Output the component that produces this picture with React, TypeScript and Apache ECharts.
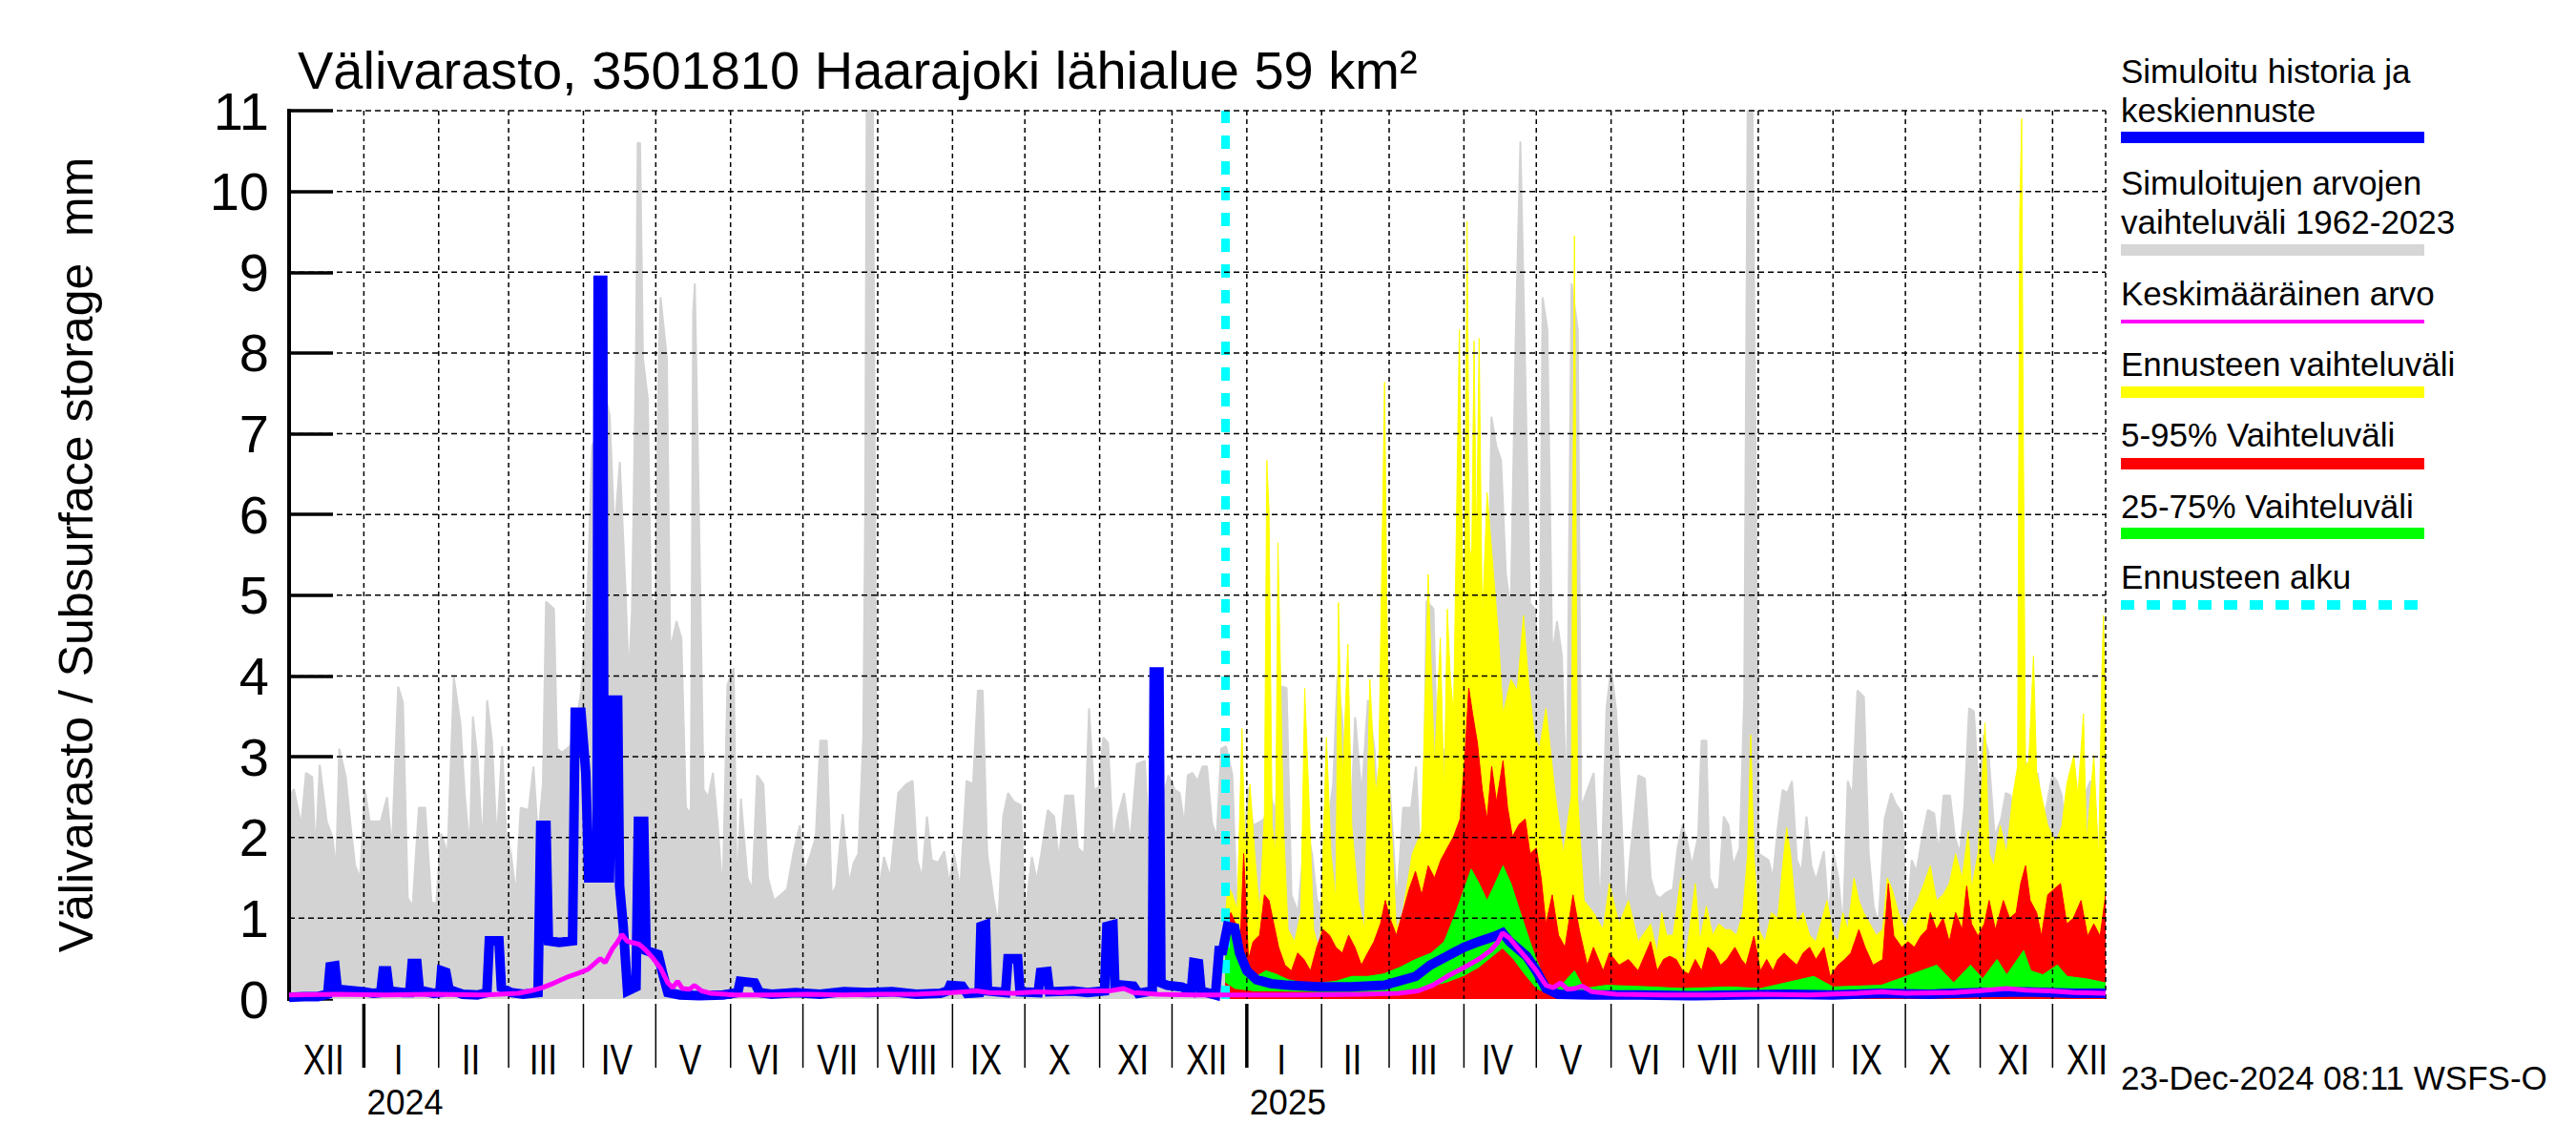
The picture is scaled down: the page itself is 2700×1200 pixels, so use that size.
import React, { useEffect, useRef } from "react";
import * as echarts from "echarts";

// ---------- axis / calendar constants ----------
const DAY0 = Date.UTC(2023, 11, 1); // 1 Dec 2023 = day 0
const X_MAX = 753; // 23 Dec 2025
const FORECAST_START = 388; // 23 Dec 2024
const Y_MAX = 11;
const yGridValues = [1, 2, 3, 4, 5, 6, 7, 8, 9, 10, 11];
const monthLabels = ["XII", "I", "II", "III", "IV", "V", "VI", "VII", "VIII", "IX", "X", "XI", "XII", "I", "II", "III", "IV", "V", "VI", "VII", "VIII", "IX", "X", "XI", "XII"];
const yearLabels: Record<number, string> = { 1: "2024", 13: "2025" };

const TITLE = "Välivarasto, 3501810 Haarajoki lähialue 59 km²";
const Y_NAME = "Välivarasto / Subsurface storage  mm";
const STAMP = "23-Dec-2024 08:11 WSFS-O";

// ---------- series values: [day, mm] ----------
const grayMax: [number, number][] = [
  [0, 2.5], [2, 2.6], [5, 2.15], [7, 2.8], [9.6, 2.75], [11, 1.8], [12.7, 2.9], [15.6, 2.2], [18, 2.0], [19.5, 1.6],
  [20.8, 3.1], [23.5, 2.75], [25.5, 2.15], [27.4, 1.65], [29.4, 1.5], [31.4, 2.6], [33.4, 2.2], [36, 2.2], [38, 2.2], [40.6, 2.5],
  [42.6, 1.85], [45.2, 3.87], [47.2, 3.67], [49.2, 1.25], [51.2, 1.15], [53.8, 2.37], [56.4, 2.37], [59, 1.2], [61, 1.18], [63, 2.05],
  [65.7, 1.8], [68.3, 3.98], [71, 3.42], [72.9, 2.5], [74.9, 1.86], [76.2, 3.5], [78.2, 2.95], [80.2, 1.86], [82.1, 3.7], [84.1, 3.2],
  [86.1, 1.94], [88.3, 3.13], [90, 2.05], [92, 1.8], [94, 1.29], [96, 2.37], [99.3, 2.34], [101.3, 2.88], [103.2, 2.0], [105.2, 2.66],
  [106.5, 4.92], [109.8, 4.83], [111.1, 3.1], [113.1, 3.05], [116.4, 3.13], [118.4, 3.3], [121, 3.8], [123.7, 5.0], [125.6, 6.85], [128, 7.0],
  [131, 7.5], [132.9, 7.22], [134.9, 5.77], [137.1, 6.65], [139.5, 5.04], [140.8, 3.96], [142.1, 4.8], [143.8, 8.0], [144.5, 10.6], [145.5, 10.6],
  [146.7, 7.93], [148.7, 7.43], [150, 4.97], [152, 4.9], [153.3, 8.0], [154, 8.69], [156.6, 7.93], [158, 4.32], [160.6, 4.68], [162.6, 4.47],
  [164.5, 2.37], [166.5, 2.3], [167.5, 8.5], [168.2, 8.86], [169.8, 6.2], [171.8, 2.59], [173.8, 2.5], [175.7, 2.8], [177.7, 2.15], [179.7, 1.29],
  [181.7, 3.89], [184.3, 4.1], [185.6, 1.29], [187.3, 2.48], [190, 1.5], [192, 1.36], [194, 2.77], [196.6, 2.66], [198.5, 1.5], [201, 1.22],
  [203.8, 1.29], [206.4, 1.36], [209, 1.8], [211.7, 2.15], [213.7, 1.58], [216.3, 1.8], [218.3, 2.0], [220.2, 3.2], [222.9, 3.2], [224.9, 1.29],
  [226.8, 1.4], [229.5, 2.29], [232.1, 1.43], [234.1, 1.69], [236, 1.8], [238, 3.24], [238.8, 6.0], [239.4, 11], [242, 11], [243.3, 3.96],
  [244.6, 1.36], [246.6, 1.76], [249.2, 1.5], [252.5, 2.55], [255.8, 2.66], [258.5, 2.7], [260.4, 1.72], [262.4, 1.5], [264.4, 2.26], [266.4, 1.72],
  [269, 1.69], [271.6, 1.83], [273.6, 1.43], [275.6, 1.8], [278.2, 1.36], [280.8, 2.7], [283.5, 2.66], [285.5, 3.82], [287.5, 3.82], [289.4, 1.8],
  [292.1, 1.22], [294, 0.93], [296, 2.26], [298, 2.55], [300.6, 2.44], [303.3, 2.4], [305.2, 1.07], [307.9, 1.76], [309.9, 1.47], [311.8, 1.8],
  [314.5, 2.34], [317.1, 2.26], [319.1, 1.72], [321.7, 2.52], [325, 2.52], [327, 1.87], [329.6, 1.8], [331.6, 3.6], [333.6, 2.59], [335.6, 2.62],
  [337.5, 3.24], [339.5, 3.17], [341.5, 1.94], [343.5, 2.26], [346.1, 2.55], [348.7, 1.94], [351.4, 2.91], [354.7, 2.95], [356.6, 1.94], [360, 2.2],
  [364.5, 2.77], [367.2, 2.59], [369.2, 2.55], [371.1, 2.15], [372.5, 2.77], [374.4, 2.8], [376.6, 2.7], [378.6, 2.88], [380.5, 2.88], [382.5, 2.19],
  [384.5, 2.0], [386.4, 3.1], [388.4, 3.13], [391, 2.77], [393, 1.07], [395, 1.6], [397.6, 2.62], [399.6, 2.15], [402.2, 2.19], [404.2, 2.23],
  [406.9, 2.52], [408.9, 2.3], [411.5, 3.87], [413.5, 3.85], [415.5, 1.29], [418.2, 1.07], [421.5, 2.19], [424, 1.8], [426.1, 1.22], [428, 1.15],
  [430.1, 2.08], [432.8, 2.66], [434.6, 4.0], [436.6, 3.45], [439.3, 1.57], [441.9, 3.49], [444.6, 2.52], [447.2, 3.7], [449.9, 3.1], [452.5, 1.72],
  [454.5, 3.13], [456.5, 2.52], [459.2, 1.18], [461.8, 2.37], [465.1, 2.37], [467.1, 2.88], [469.8, 1.22], [471.5, 4.93], [474.4, 4.83], [476.4, 2.3],
  [479, 3.1], [481.7, 3.06], [483.7, 3.53], [485.7, 3.82], [488.3, 4.1], [490.4, 4.97], [492.3, 4.32], [495, 4.65], [497, 4.65], [498.4, 7.21],
  [500.4, 6.85], [502.4, 6.67], [504.4, 5.26], [506.4, 4.83], [508.4, 8.11], [510.4, 10.62], [512.3, 7.93], [514.4, 4.9], [516.4, 4.83], [518.4, 3.96],
  [519.6, 8.69], [521.6, 8.29], [523.6, 4.25], [525.6, 4.68], [527.6, 4.25], [529.6, 2.37], [531.6, 8.86], [534.2, 8.29], [535.6, 2.37], [538.2, 2.59],
  [540.8, 2.8], [543.5, 1.07], [546.1, 3.6], [548, 4.1], [550, 3.6], [552, 2.44], [554, 1.07], [556, 1.8], [559.3, 2.77], [562, 2.73],
  [564.4, 1.5], [566.4, 1.29], [568.3, 1.25], [571, 1.32], [573.6, 1.36], [575.6, 1.87], [577.6, 2.15], [579.6, 1.94], [581.5, 1.65], [584.1, 2.01],
  [585.5, 3.2], [587.5, 3.2], [588.8, 1.5], [590.7, 1.36], [592.7, 1.36], [594.7, 2.26], [596.7, 2.15], [598.6, 1.65], [601.3, 1.87], [603.2, 3.74],
  [604.6, 11], [606.6, 11], [607.9, 6.92], [609.2, 1.8], [611.2, 1.76], [613.2, 1.72], [615.1, 1.5], [617.1, 2.12], [619.1, 2.59], [621.1, 2.55],
  [623, 2.7], [625, 1.72], [627, 1.58], [629, 2.26], [631, 1.65], [633, 1.47], [636.2, 1.83], [638.2, 1.0], [640.2, 1.8], [642.2, 1.5],
  [644.1, 0.86], [646.1, 2.7], [648.1, 2.52], [650.1, 3.82], [652.8, 3.74], [654.8, 1.8], [656.8, 1.15], [658.8, 0.93], [661.4, 2.23], [664.1, 2.55],
  [666.1, 2.41], [668.7, 2.3], [670.7, 0.93], [672.6, 1.72], [674.6, 1.58], [676.6, 1.94], [679.3, 2.34], [681.9, 2.3], [683.9, 1.8], [685.8, 2.52],
  [688.5, 2.52], [690.5, 2.01], [692.5, 1.8], [694.4, 2.37], [696.4, 3.6], [698.4, 3.56], [700.4, 2.59], [702.4, 3.27], [704.4, 3.06], [707, 2.01],
  [709.7, 2.23], [711.6, 2.55], [713.6, 2.52], [715.6, 2.01], [717.6, 2.95], [719.6, 2.95], [721.6, 2.8], [722.9, 2.15], [724.9, 2.8], [726.9, 2.15],
  [728.8, 2.44], [730.8, 2.77], [732.8, 2.7], [734.8, 2.52], [736.8, 1.94], [738.8, 2.77], [740.8, 2.3], [742.7, 1.47], [744.7, 2.55], [746.7, 2.7],
  [748.7, 2.37], [750.7, 1.29], [752, 3.1], [753, 3.13],
];

const ensMax: [number, number][] = [
  [388, 0.95], [389.1, 1.4], [391, 1.3], [393, 1.1], [395, 3.35], [396.3, 1.8], [398.3, 2.66], [400.3, 1.8], [402.3, 1.07], [404.3, 2.3],
  [405.3, 6.67], [406.2, 6.05], [407.5, 2.15], [408.9, 1.8], [409.9, 5.65], [410.8, 4.32], [412.2, 2.15], [414.1, 0.86], [416.8, 0.71], [419.4, 1.07],
  [421, 3.85], [422.7, 2.52], [424.7, 0.86], [427.3, 0.57], [430, 3.24], [431.9, 1.8], [433.9, 1.22], [435, 4.91], [436.6, 2.66], [438.9, 4.39],
  [440.5, 2.15], [443.2, 1.22], [445.8, 0.86], [448, 3.96], [450.4, 2.52], [451.7, 2.88], [454.1, 7.64], [455, 5.04], [456.3, 2.52], [459, 0.86],
  [461.6, 1.07], [465.6, 1.8], [469.5, 2.08], [472.2, 5.26], [474.8, 2.88], [477.2, 4.47], [478.8, 2.52], [480.1, 4.83], [481.4, 3.96], [482.7, 3.53],
  [485.1, 8.29], [486, 6.27], [487.1, 4.1], [488.3, 9.63], [489.3, 5.62], [490.2, 5.4], [491.2, 8.15], [492.2, 5.55], [493.3, 8.18], [494.6, 4.68],
  [496.6, 6.27], [498.5, 5.55], [501.2, 4.54], [503.2, 3.53], [506.5, 3.96], [509.1, 3.82], [511.7, 4.75], [513.7, 3.96], [516.3, 3.24], [518.3, 3.1],
  [521, 3.6], [524.9, 2.52], [528.2, 1.8], [531.5, 2.52], [532.8, 9.45], [534.1, 2.52], [536.8, 1.22], [540.7, 1.07], [544.7, 0.86], [547.3, 1.43],
  [551.3, 0.93], [555.2, 1.22], [559.2, 0.71], [564.4, 0.93], [567.1, 0.57], [569, 1.07], [571, 0.79], [573.7, 0.79], [576.9, 1.5], [578.3, 0.35],
  [580.2, 0.79], [582.9, 1.43], [584.8, 0.71], [587.5, 1.15], [590.1, 0.79], [592.7, 0.93], [595.4, 0.86], [597.4, 0.86], [600, 0.79], [602.6, 1.07],
  [604.6, 1.8], [605.9, 3.27], [607.2, 1.8], [609.2, 0.86], [611.8, 0.71], [614.5, 1.07], [617.1, 1.0], [619.1, 1.65], [620.8, 2.12], [622.4, 1.8],
  [625, 0.93], [627.6, 1.07], [630.3, 0.79], [632.9, 0.71], [634.9, 0.93], [637.5, 1.22], [640.1, 0.79], [642.1, 0.71], [644.1, 1.07], [646.1, 0.86],
  [648.7, 1.5], [650.7, 1.22], [652.7, 1.07], [655.3, 0.93], [657.9, 0.79], [660.6, 0.86], [662.5, 1.5], [664.5, 1.36], [667.1, 1.07], [669.8, 0.86],
  [672.4, 1.07], [675, 1.22], [677.7, 1.43], [680.3, 1.65], [682.9, 1.22], [685.6, 1.29], [688.2, 1.43], [690.8, 1.8], [693.5, 1.5], [696.1, 2.08],
  [697.4, 1.36], [700.1, 1.8], [703, 3.42], [704.7, 1.8], [706.6, 1.65], [709.3, 2.15], [711.9, 1.8], [714.5, 2.52], [716.5, 2.88], [717.4, 9.74],
  [718.2, 10.9], [718.7, 7.79], [719.8, 2.88], [721.1, 2.95], [723.1, 4.25], [724.4, 2.81], [726.4, 2.52], [729, 2.15], [732.3, 1.94], [734.9, 2.15],
  [736.9, 2.66], [739.8, 3.02], [741.5, 2.52], [743.8, 3.53], [745.1, 1.94], [748.1, 3.02], [750.1, 1.72], [751.4, 4.0], [752.1, 4.75], [753, 3.5],
];

const ens95: [number, number][] = [
  [388, 0.9], [390.4, 1.07], [394.4, 0.79], [395.7, 1.8], [397.7, 0.49], [399.6, 0.71], [402.3, 0.79], [404.3, 1.29], [406.2, 1.22], [408.2, 0.93],
  [410.2, 0.64], [412.8, 0.42], [415.5, 0.35], [418.1, 0.57], [420.7, 0.49], [423.4, 0.35], [426, 0.64], [428.6, 0.86], [431.3, 0.79], [433.9, 0.64],
  [436.6, 0.57], [439.2, 0.79], [441.8, 0.64], [444.5, 0.42], [447.1, 0.57], [449.7, 0.71], [452.4, 0.93], [454.4, 1.22], [456.3, 1.0], [459, 0.79],
  [461.6, 1.07], [464.3, 1.36], [466.9, 1.58], [469.5, 1.29], [472.2, 1.65], [474.8, 1.5], [477.4, 1.72], [480.1, 1.87], [482.7, 2.01], [485.4, 2.23],
  [487.3, 2.95], [489, 3.85], [490.6, 3.53], [492.6, 3.17], [494.6, 2.59], [496.6, 2.23], [498.5, 2.88], [500.5, 2.44], [503.2, 2.95], [505.1, 2.37],
  [507.1, 2.01], [509.8, 2.16], [512.4, 2.23], [514.4, 1.8], [517, 1.87], [519, 1.5], [521, 0.93], [523.6, 1.29], [526.2, 0.79], [528.9, 0.64],
  [532.2, 1.29], [534.8, 0.86], [538.1, 0.42], [540.7, 0.64], [544.7, 0.35], [547.3, 0.57], [551.3, 0.42], [555.2, 0.49], [559.2, 0.35], [564.4, 0.71],
  [567.1, 0.35], [569.7, 0.49], [572.3, 0.53], [575, 0.49], [577.6, 0.35], [580.2, 0.31], [582.9, 0.49], [585.5, 0.35], [588.1, 0.64], [590.8, 0.57],
  [593.4, 0.42], [596, 0.49], [599.3, 0.64], [602, 0.49], [603.9, 0.42], [607.2, 0.78], [609.9, 0.35], [612.5, 0.49], [615.1, 0.35], [617.1, 0.49],
  [619.7, 0.57], [622.4, 0.49], [625, 0.42], [627.6, 0.57], [630.3, 0.64], [632.9, 0.49], [636.2, 0.64], [638.8, 0.28], [642.1, 0.42], [644.8, 0.49],
  [647.4, 0.57], [650.7, 0.86], [653.3, 0.64], [656.6, 0.42], [660.6, 0.49], [662.9, 1.43], [665.2, 0.78], [668.5, 0.64], [671.1, 0.71], [673.7, 0.64],
  [676.4, 0.78], [679, 0.86], [680.3, 1.07], [682.9, 0.86], [685.6, 1.0], [688.2, 0.71], [690.8, 1.07], [693.5, 0.86], [695.4, 1.4], [697.4, 0.93],
  [700.1, 0.78], [702.7, 0.93], [704.7, 1.22], [707.3, 0.86], [710.6, 1.22], [713.2, 1.0], [715.9, 1.07], [717.8, 1.43], [719.8, 1.65], [721.7, 1.22],
  [724.4, 1.07], [726.4, 0.78], [729, 1.29], [731.6, 1.36], [734.3, 1.43], [736.9, 0.93], [739.6, 1.0], [742.8, 1.22], [745.5, 0.78], [748.1, 0.93],
  [750.7, 0.78], [753, 1.29],
];

const ens75: [number, number][] = [
  [388, 0.9], [389.7, 0.93], [392, 0.7], [394.4, 0.57], [395.7, 0.42], [401, 0.28], [404.9, 0.35], [408.9, 0.31], [414.1, 0.24], [420.7, 0.2],
  [427.3, 0.2], [433.9, 0.22], [440.5, 0.28], [447.1, 0.28], [453.7, 0.31], [460.3, 0.39], [466.9, 0.49], [473.5, 0.57], [478.8, 0.71], [482.7, 1.0],
  [485.4, 1.22], [490, 1.61], [493.3, 1.43], [496.6, 1.22], [499.9, 1.43], [503.2, 1.65], [506.5, 1.43], [510.4, 1.07], [514.4, 0.71], [517, 0.49],
  [521, 0.2], [526.2, 0.13], [532.8, 0.35], [536.8, 0.13], [546, 0.17], [564.5, 0.15], [578, 0.13], [597, 0.15], [610, 0.13], [632, 0.28],
  [640, 0.15], [660, 0.17], [683, 0.42], [690, 0.2], [697, 0.42], [702, 0.25], [708, 0.49], [712, 0.3], [719, 0.6], [722, 0.35],
  [727, 0.3], [733, 0.42], [737, 0.28], [745, 0.25], [753, 0.2],
];

const ens25: [number, number][] = [
  [388, 0.2], [392, 0.12], [400, 0.09], [430, 0.08], [460, 0.08], [470, 0.12], [480, 0.2], [487, 0.28], [493, 0.38], [498, 0.5],
  [503, 0.62], [507, 0.5], [512, 0.3], [517, 0.12], [522, 0.06], [560, 0.05], [620, 0.05], [700, 0.06], [753, 0.06],
];

const simMedian: [number, number][] = [
  [0, 0.02], [6, 0.03], [12, 0.03], [16, 0.06], [17, 0.4], [19, 0.41], [20, 0.12], [27, 0.1], [31, 0.09], [35, 0.07],
  [38, 0.08], [39, 0.35], [40.5, 0.35], [41.5, 0.1], [47, 0.08], [50, 0.08], [51, 0.44], [53, 0.44], [54, 0.11], [60, 0.07],
  [62.5, 0.08], [63.2, 0.35], [65, 0.33], [66.3, 0.12], [69, 0.09], [72, 0.06], [78, 0.05], [82, 0.08], [83, 0.72], [87, 0.72],
  [88, 0.14], [92, 0.08], [97, 0.06], [103.2, 0.08], [104.3, 2.15], [106.5, 2.15], [107.5, 0.72], [112, 0.7], [117.5, 0.72], [118.6, 3.55],
  [121, 3.55], [123, 2.8], [124.2, 1.5], [126, 1.5], [127.6, 1.5], [128.1, 8.9], [130, 8.9], [130.6, 1.5], [132.8, 1.5], [133.8, 3.7],
  [136.2, 3.7], [137, 1.4], [138.5, 0.9], [140.3, 0.1], [143.8, 0.15], [144.8, 2.2], [147, 2.2], [148, 0.6], [153, 0.55], [155, 0.3],
  [157, 0.08], [162, 0.05], [170, 0.04], [180, 0.05], [186, 0.08], [187, 0.22], [193, 0.2], [195, 0.08], [200, 0.06], [210, 0.08],
  [220, 0.06], [230, 0.09], [240, 0.08], [250, 0.09], [260, 0.06], [270, 0.07], [273, 0.1], [274, 0.17], [279, 0.16], [281, 0.07],
  [286, 0.08], [286.8, 0.9], [288.7, 0.92], [289.5, 0.1], [297, 0.08], [298, 0.5], [302, 0.5], [303, 0.09], [310.5, 0.08], [311.5, 0.33],
  [314.2, 0.34], [315.2, 0.09], [325, 0.1], [331, 0.08], [338, 0.1], [339, 0.9], [341.5, 0.92], [342.3, 0.18], [350, 0.16], [352, 0.07],
  [357.8, 0.1], [358.6, 4.05], [360.6, 4.05], [361.4, 0.2], [364, 0.17], [370, 0.15], [374, 0.1], [375, 0.45], [377, 0.44], [378, 0.1],
  [384, 0.05], [385.5, 0.6], [387, 0.6], [389, 0.9], [392, 0.88], [394, 0.57], [397, 0.35], [401, 0.24], [407, 0.19], [414, 0.17],
  [427, 0.15], [440, 0.15], [454, 0.17], [467, 0.28], [473, 0.42], [480, 0.53], [487, 0.64], [493, 0.71], [500, 0.78], [503, 0.82],
  [506, 0.71], [513, 0.53], [517, 0.35], [521, 0.13], [526, 0.06], [540, 0.05], [560, 0.05], [580, 0.04], [600, 0.05], [620, 0.06],
  [640, 0.05], [660, 0.07], [680, 0.06], [700, 0.08], [720, 0.09], [740, 0.07], [753, 0.07],
];

const meanValue: [number, number][] = [
  [0, 0.05], [20, 0.06], [40, 0.05], [60, 0.06], [80, 0.05], [95, 0.07], [100, 0.1], [105, 0.14], [110, 0.2], [116, 0.28],
  [120, 0.32], [124, 0.37], [129, 0.5], [131, 0.45], [134, 0.62], [136, 0.7], [138, 0.8], [140, 0.72], [142, 0.7], [145, 0.68],
  [148, 0.6], [151, 0.5], [154, 0.38], [157, 0.2], [159, 0.14], [161, 0.22], [163, 0.13], [166, 0.12], [168, 0.17], [171, 0.1],
  [175, 0.07], [185, 0.05], [200, 0.05], [215, 0.06], [230, 0.05], [245, 0.06], [260, 0.06], [275, 0.08], [285, 0.1], [290, 0.08],
  [300, 0.07], [310, 0.09], [320, 0.08], [330, 0.1], [340, 0.1], [346, 0.13], [350, 0.08], [360, 0.06], [375, 0.05], [397, 0.05],
  [420, 0.05], [445, 0.06], [460, 0.07], [468, 0.1], [474, 0.17], [480, 0.28], [487, 0.39], [493, 0.49], [498, 0.6], [501, 0.7],
  [503, 0.82], [506, 0.75], [509, 0.64], [513, 0.5], [517, 0.35], [521, 0.17], [524, 0.14], [527, 0.2], [530, 0.12], [533, 0.13],
  [536, 0.16], [540, 0.09], [550, 0.06], [570, 0.05], [590, 0.05], [610, 0.06], [630, 0.05], [650, 0.07], [660, 0.09], [670, 0.07],
  [690, 0.08], [700, 0.1], [712, 0.13], [720, 0.11], [730, 0.1], [740, 0.08], [753, 0.07],
];

// ---------- styling ----------
const FONT = "'Liberation Sans', Arial, Helvetica, sans-serif";
const C_GRAY = "#D3D3D3";
const C_BLUE = "#0000FF";
const C_MAG = "#FF00FF";
const C_YEL = "#FFFF00";
const C_RED = "#FF0000";
const C_GRN = "#00FF00";
const C_CYAN = "#00FFFF";

function monthStartDays(): number[] {
  const out: number[] = [];
  for (let k = 0; k <= monthLabels.length; k++) {
    const mm = 11 + k;
    const y = 2023 + Math.floor(mm / 12);
    const m = mm % 12;
    out.push(Math.round((Date.UTC(y, m, 1) - DAY0) / 86400000));
  }
  return out; // includes start of the month after the last label
}

const txt = (align: string, vAlign: string) => ({ textAlign: align, textVerticalAlign: vAlign, align, verticalAlign: vAlign });

function buildOption() {
  const starts = monthStartDays();
  const monthData = monthLabels.map((_, i) => [starts[i], starts[i + 1], i]);

  const area = (name: string, data: [number, number][], color: string, z: number, lw = 1) => ({
    type: "line",
    name,
    data,
    symbol: "none",
    showSymbol: false,
    silent: true,
    z,
    lineStyle: { width: lw, color },
    areaStyle: { color, opacity: 1 },
  });

  const legendRows = [
    { lines: ["Simuloitu historia ja", "keskiennuste"], y: 74, barY: 144, color: C_BLUE, w: 12 },
    { lines: ["Simuloitujen arvojen", "vaihteluväli 1962-2023"], y: 191, barY: 262, color: "#D6D6D6", w: 12 },
    { lines: ["Keskimääräinen arvo"], y: 307, barY: 337, color: C_MAG, w: 4 },
    { lines: ["Ennusteen vaihteluväli"], y: 381, barY: 411, color: C_YEL, w: 12 },
    { lines: ["5-95% Vaihteluväli"], y: 455, barY: 486, color: C_RED, w: 12 },
    { lines: ["25-75% Vaihteluväli"], y: 530, barY: 559, color: C_GRN, w: 12 },
    { lines: ["Ennusteen alku"], y: 604, barY: 634, color: C_CYAN, w: 10, dashed: true },
  ];
  const LX = 2223;
  const LX2 = 2541;
  const legendEls: any[] = [];
  legendRows.forEach((r) => {
    r.lines.forEach((t, j) => {
      legendEls.push({
        type: "text",
        x: LX,
        y: r.y + j * 41,
        style: { text: t, fill: "#000", font: `35px ${FONT}`, ...txt("left", "middle") },
      });
    });
    legendEls.push({
      type: "line",
      shape: { x1: LX, y1: r.barY, x2: LX2, y2: r.barY },
      style: { stroke: r.color, lineWidth: r.w, lineDash: r.dashed ? [14, 13] : null },
    });
  });

  return {
    animation: false,
    backgroundColor: "#FFFFFF",
    grid: { left: 303, top: 116, width: 1904, height: 931, containLabel: false },
    xAxis: { type: "value", min: 0, max: X_MAX, show: false },
    yAxis: {
      type: "value",
      min: 0,
      max: Y_MAX,
      interval: 1,
      z: 0,
      axisLine: { show: false },
      axisTick: { show: true, inside: true, length: 46, lineStyle: { color: "#000", width: 3.5 } },
      axisLabel: { color: "#000", fontSize: 56, fontFamily: FONT, margin: 21 },
      splitLine: { show: false },
      name: Y_NAME,
      nameLocation: "middle",
      nameRotate: 90,
      nameGap: 198,
      nameTextStyle: { color: "#000", fontSize: 50, fontFamily: FONT },
    },
    graphic: [
      {
        type: "text",
        x: 312,
        y: 73,
        style: { text: TITLE, fill: "#000", font: `56px ${FONT}`, ...txt("left", "middle") },
      },
      {
        type: "text",
        x: 2223,
        y: 1129,
        style: { text: STAMP, fill: "#000", font: `35px ${FONT}`, ...txt("left", "middle") },
      },
      ...legendEls,
    ],
    series: [
      area("Simuloitujen arvojen vaihteluväli", grayMax, C_GRAY, 2, 2),
      area("Ennusteen vaihteluväli", ensMax, C_YEL, 2.1),
      area("5-95% Vaihteluväli", ens95, C_RED, 2.2),
      area("25-75% Vaihteluväli", ens75, C_GRN, 2.3),
      area("25% raja", ens25, C_RED, 2.4),
      {
        type: "custom",
        name: "hgrid",
        z: 5,
        silent: true,
        data: yGridValues.map((v) => [0, v]),
        renderItem: (_p: any, api: any) => {
          const v = api.value(1);
          const a = api.coord([0, v]);
          const b = api.coord([X_MAX, v]);
          return {
            type: "line",
            shape: { x1: a[0], y1: a[1], x2: b[0], y2: b[1] },
            style: { stroke: "#000", lineWidth: 1.5, lineDash: [6, 4] },
          };
        },
      },
      {
        type: "custom",
        name: "months",
        z: 5,
        silent: true,
        clip: false,
        data: monthData,
        renderItem: (_p: any, api: any) => {
          const s = api.value(0);
          const e = api.value(1);
          const i = api.value(2);
          const top = api.coord([s, Y_MAX]);
          const bot = api.coord([s, 0]);
          const mid = api.coord([(s + e) / 2, 0]);
          const isJan = monthLabels[i] === "I";
          const children: any[] = [];
          if (i > 0) {
            children.push({
              type: "line",
              shape: { x1: top[0], y1: top[1], x2: bot[0], y2: bot[1] },
              style: { stroke: "#000", lineWidth: 1.5, lineDash: [5, 4] },
            });
            children.push({
              type: "line",
              shape: { x1: bot[0], y1: bot[1] + 5, x2: bot[0], y2: bot[1] + 72 },
              style: { stroke: "#000", lineWidth: isJan ? 3.5 : 1.5 },
            });
          }
          children.push({
            type: "text",
            x: mid[0] - 3,
            y: bot[1] + 64,
            scaleX: 0.8,
            style: { text: monthLabels[i], fill: "#000", font: `44px ${FONT}`, ...txt("center", "middle") },
          });
          if (isJan && yearLabels[i]) {
            children.push({
              type: "text",
              x: bot[0] + 3,
              y: bot[1] + 108,
              style: { text: yearLabels[i], fill: "#000", font: `36px ${FONT}`, ...txt("left", "middle") },
            });
          }
          return { type: "group", children };
        },
      },
      {
        type: "custom",
        name: "frame",
        z: 5,
        silent: true,
        data: [[0, 0]],
        renderItem: (_p: any, api: any) => {
          const l0 = api.coord([0, 0]);
          const l1 = api.coord([0, Y_MAX]);
          const r0 = api.coord([X_MAX, 0]);
          const r1 = api.coord([X_MAX, Y_MAX]);
          return {
            type: "group",
            children: [
              { type: "line", shape: { x1: l0[0], y1: l0[1] + 2, x2: l1[0], y2: l1[1] - 2 }, style: { stroke: "#000", lineWidth: 4 } },
              { type: "line", shape: { x1: r0[0], y1: r0[1], x2: r1[0], y2: r1[1] }, style: { stroke: "#000", lineWidth: 1.5, lineDash: [5, 4] } },
            ],
          };
        },
      },
      {
        type: "line",
        name: "Ennusteen alku",
        data: [],
        z: 5.5,
        silent: true,
        markLine: {
          silent: true,
          symbol: ["none", "none"],
          label: { show: false },
          lineStyle: { color: C_CYAN, width: 9, type: [14, 13] },
          data: [{ xAxis: FORECAST_START }],
        },
      },
      {
        type: "line",
        name: "Simuloitu historia ja keskiennuste",
        data: simMedian,
        symbol: "none",
        showSymbol: false,
        silent: true,
        clip: false,
        z: 6,
        lineStyle: { width: 10, color: C_BLUE, join: "miter" },
      },
      {
        type: "line",
        name: "Keskimääräinen arvo",
        data: meanValue,
        symbol: "none",
        showSymbol: false,
        silent: true,
        clip: false,
        z: 7,
        lineStyle: { width: 5, color: C_MAG },
      },
    ],
  };
}

export default function App() {
  const ref = useRef<HTMLDivElement>(null);
  useEffect(() => {
    if (!ref.current) return;
    const chart = echarts.init(ref.current, undefined, { renderer: "svg" });
    chart.setOption(buildOption() as any);
    return () => chart.dispose();
  }, []);
  return (
    <div
      ref={ref}
      style={{ position: "fixed", left: 0, top: 0, width: 2700, height: 1200, background: "#fff" }}
    />
  );
}
